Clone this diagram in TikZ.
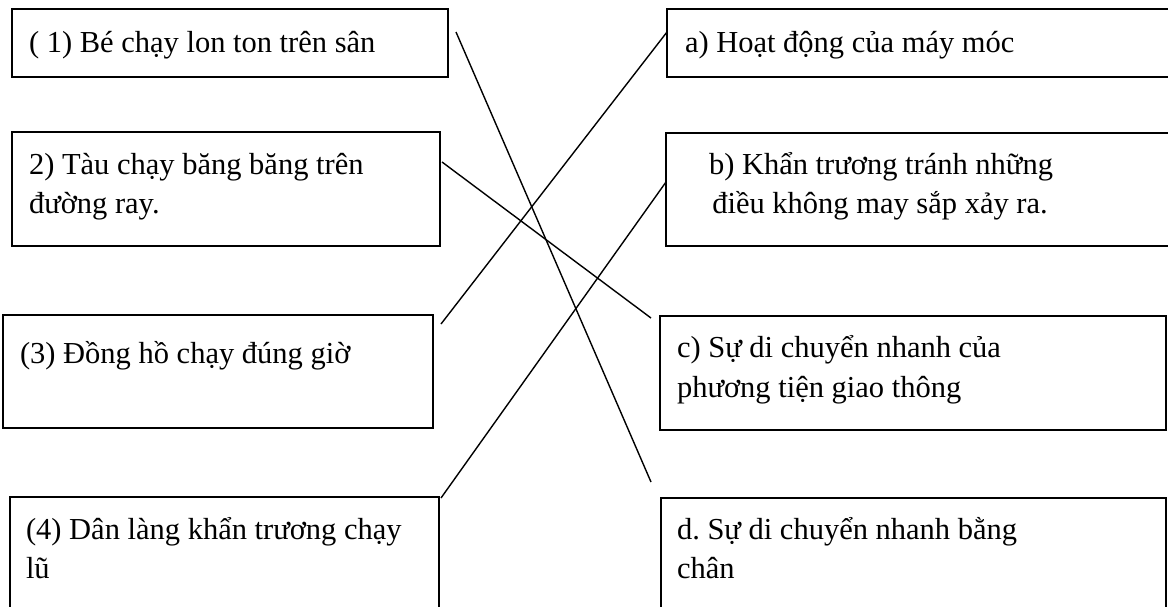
\documentclass[tikz,border=0pt]{standalone}
\usepackage{fontspec}
\setmainfont{Liberation Serif}
\frenchspacing
\begin{document}
\begin{tikzpicture}[x=1pt,y=-1pt,
  box/.style={draw=black,line width=1.7pt,inner sep=0pt,outer sep=0pt,anchor=north west},
  txt/.style={inner sep=0pt,outer sep=0pt,anchor=base west,font=\fontsize{30.5}{39.5}\selectfont},
  txtc/.style={inner sep=0pt,outer sep=0pt,anchor=base,font=\fontsize{30.5}{39.5}\selectfont},
  link/.style={draw=black,line width=1.4pt}]
\useasboundingbox (0,0) rectangle (1168,606);
\clip (0,0) rectangle (1168,606);
% left boxes
\node[box,minimum width=436pt,minimum height=68pt] (b1) at (12,9) {};
\node[box,minimum width=428pt,minimum height=114pt] (b2) at (12,132) {};
\node[box,minimum width=430pt,minimum height=113pt] (b3) at (3,315) {};
\node[box,minimum width=429pt,minimum height=130pt] (b4) at (10,497) {};
% right boxes
\node[box,minimum width=520pt,minimum height=68pt] (ba) at (667,9) {};
\node[box,minimum width=520pt,minimum height=113pt] (bb) at (666,133) {};
\node[box,minimum width=506pt,minimum height=114pt] (bc) at (660,316) {};
\node[box,minimum width=505pt,minimum height=130pt] (bd) at (661,498) {};
% texts
\node[txt] (t1) at (29,52) {( 1) Bé chạy lon ton trên sân};
\node[txt] (t2a) at (29,174) {2) Tàu chạy băng băng trên};
\node[txt] (t2b) at (29,213) {đường ray.};
\node[txt] (t3) at (20,363) {(3) Đồng hồ chạy đúng giờ};
\node[txt] (t4a) at (26,539) {(4) Dân làng khẩn trương chạy};
\node[txt] (t4b) at (26,578) {lũ};
\node[txt] (ta) at (685,52) {a) Hoạt động của máy móc};
\node[txtc] (tba) at (881,174) {b) Khẩn trương tránh những};
\node[txtc] (tbb) at (880,213) {điều không may sắp xảy ra.};
\node[txt] (tca) at (677,357) {c) Sự di chuyển nhanh của};
\node[txt] (tcb) at (677,397) {phương tiện giao thông};
\node[txt] (tda) at (677,539) {d. Sự di chuyển nhanh bằng};
\node[txt] (tdb) at (677,578) {chân};
% connector end points
\coordinate (s1) at (456,32);
\coordinate (e1) at (651,482);
\coordinate (s2) at (442,162);
\coordinate (e2) at (651,318);
\coordinate (s3) at (441,324);
\coordinate (e3) at (667,32);
\coordinate (s4) at (441,498);
\coordinate (e4) at (666,182);
\draw[link] (s1) -- (e1);
\draw[link] (s2) -- (e2);
\draw[link] (s3) -- (e3);
\draw[link] (s4) -- (e4);
\end{tikzpicture}
\end{document}
